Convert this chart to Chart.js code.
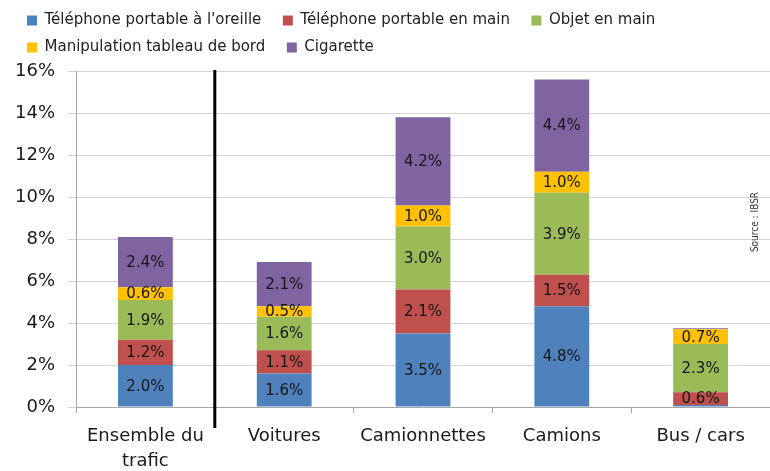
<!DOCTYPE html>
<html lang="fr">
<head>
    <meta charset="utf-8">
    <title>Distraction au volant</title>
    <script src="https://cdn.jsdelivr.net/npm/chart.js"></script>
    <style>
        html, body {
            margin: 0;
            padding: 0;
            background: #fff;
        }
        .chart-box {
            width: 770px;
            height: 471px;
        }
    </style>
</head>
<body>
<div class="chart-box">
    <canvas id="distractionChart"></canvas>
</div>

<script>
    // categories
    const categories = [['Ensemble du', 'trafic'], 'Voitures', 'Camionnettes', 'Camions', 'Bus / cars'];

    // series (% of drivers)
    const seriesNames = ["Téléphone portable à l'oreille", 'Téléphone portable en main', 'Objet en main', 'Manipulation tableau de bord', 'Cigarette'];
    const telOreille = [2.0, 1.6, 3.5, 4.8, 0.1];
    const telMain = [1.2, 1.1, 2.1, 1.5, 0.6];
    const objetMain = [1.9, 1.6, 3.0, 3.9, 2.3];
    const tableauBord = [0.6, 0.5, 1.0, 1.0, 0.7];
    const cigarette = [2.4, 2.1, 4.2, 4.4, 0.05];

    const yTicks = [0, 2, 4, 6, 8, 10, 12, 14, 16];

    const colors = ['#4F81BD', '#C0504D', '#9BBB59', '#FFC000', '#8064A2'];
    const values = [telOreille, telMain, objetMain, tableauBord, cigarette];

    const font = "'DejaVu Sans', Verdana, sans-serif";

    // value labels inside the segments, separator line, source note
    const extras = {
        id: 'extras',
        afterDatasetsDraw(chart) {
            const ctx = chart.ctx;
            const area = chart.chartArea;
            ctx.save();
            ctx.font = '15px ' + font;
            ctx.fillStyle = '#151515';
            ctx.textAlign = 'center';
            ctx.textBaseline = 'middle';
            chart.data.datasets.forEach((ds, i) => {
                chart.getDatasetMeta(i).data.forEach((bar, j) => {
                    const v = ds.data[j];
                    if (v < 0.3) return;
                    ctx.fillText(v.toFixed(1) + '%', bar.x, (bar.y + bar.base) / 2 + 1);
                });
            });

            const x = chart.scales.x;
            const sepX = (x.getPixelForValue(0) + x.getPixelForValue(1)) / 2;
            ctx.strokeStyle = '#000';
            ctx.lineWidth = 3;
            ctx.beginPath();
            ctx.moveTo(sepX, area.top - 1);
            ctx.lineTo(sepX, area.bottom + 21);
            ctx.stroke();

            ctx.translate(755, 222);
            ctx.rotate(-Math.PI / 2);
            ctx.font = "10px 'DejaVu Sans Condensed', sans-serif";
            ctx.fillStyle = '#333';
            ctx.fillText('Source : IBSR', 0, 0);
            ctx.restore();
        }
    };

    new Chart(document.getElementById('distractionChart'), {
        type: 'bar',
        data: {
            labels: categories,
            datasets: seriesNames.map((name, i) => ({
                label: name,
                data: values[i],
                backgroundColor: colors[i],
                borderWidth: 0,
                categoryPercentage: 1,
                barPercentage: 0.395
            }))
        },
        options: {
            responsive: true,
            maintainAspectRatio: false,
            animation: false,
            layout: { padding: { top: 1, left: 15, right: 0, bottom: 0 } },
            plugins: {
                legend: {
                    position: 'top',
                    align: 'start',
                    weight: 3000,
                    labels: {
                        boxWidth: 10,
                        boxHeight: 10,
                        padding: 12,
                        color: '#222',
                        font: { family: font, size: 15 },
                        generateLabels(chart) {
                            return Chart.defaults.plugins.legend.labels.generateLabels(chart)
                                .map(item => Object.assign(item, { text: item.text + '  ', lineWidth: 0 }));
                        }
                    }
                },
                subtitle: {
                    display: true,
                    text: '',
                    weight: 1500,
                    padding: 0,
                    font: { size: 6, lineHeight: 1 }
                },
                tooltip: { enabled: false }
            },
            scales: {
                x: {
                    stacked: true,
                    afterFit(axis) {
                        axis.height = 64;
                    },
                    grid: {
                        drawOnChartArea: false,
                        drawTicks: true,
                        tickLength: 6,
                        color: '#a6a6a6'
                    },
                    border: { color: '#a6a6a6' },
                    ticks: {
                        padding: 11,
                        color: '#1a1a1a',
                        maxRotation: 0,
                        autoSkip: false,
                        font: { family: font, size: 18, lineHeight: 1.4 }
                    }
                },
                y: {
                    stacked: true,
                    min: 0,
                    max: 16,
                    afterBuildTicks(axis) {
                        axis.ticks = yTicks.map(v => ({ value: v }));
                    },
                    afterFit(axis) {
                        axis.width = 61;
                    },
                    grid: {
                        color: '#d4d4d4',
                        tickLength: 8
                    },
                    border: { color: '#a6a6a6' },
                    ticks: {
                        padding: 13,
                        color: '#1a1a1a',
                        font: { family: font, size: 18 },
                        callback: v => v + '%'
                    }
                }
            }
        },
        plugins: [extras]
    });
</script>
</body>
</html>
